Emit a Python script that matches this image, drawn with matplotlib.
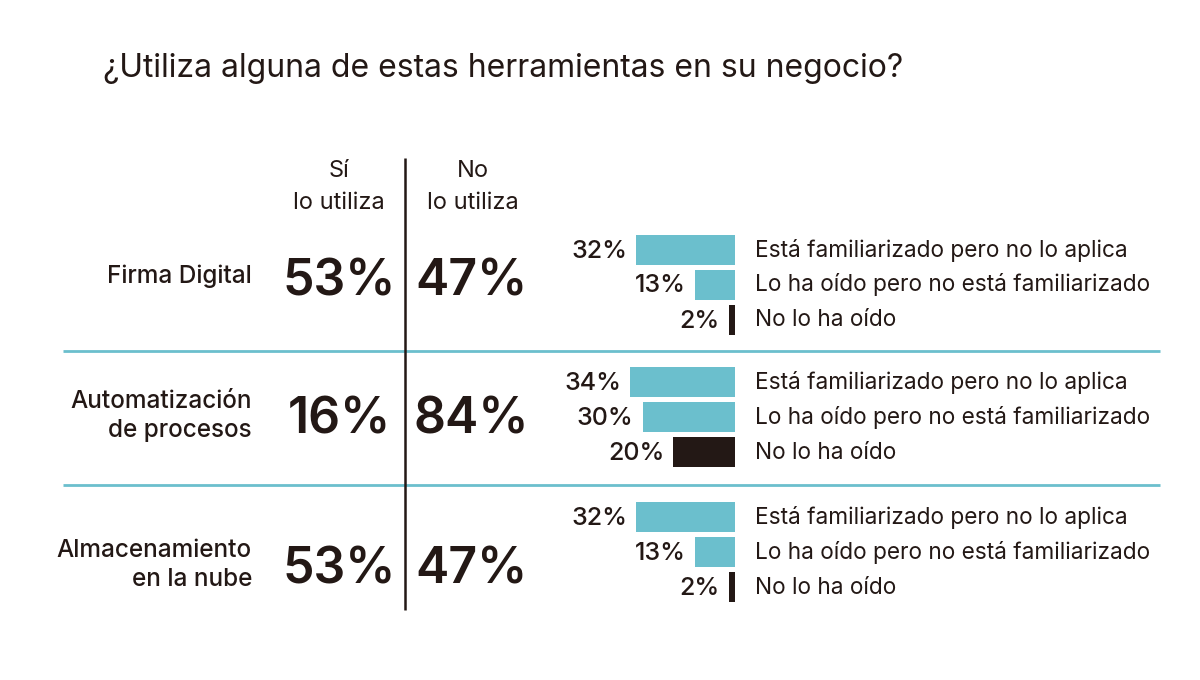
import matplotlib
matplotlib.use("Agg")
import matplotlib.pyplot as plt

# datos
title = "¿Utiliza alguna de estas herramientas en su negocio?"
tools = ["Firma Digital", "Automatización\nde procesos", "Almacenamiento\nen la nube"]
si_utiliza = [53, 16, 53]
no_utiliza = [47, 84, 47]
categorias = ["Está familiarizado pero no lo aplica",
              "Lo ha oído pero no está familiarizado",
              "No lo ha oído"]
familiarizado = [32, 34, 32]
lo_ha_oido = [13, 30, 13]
no_lo_ha_oido = [2, 20, 2]

TEAL = "#6bbfcd"
DARK = "#231815"
plt.rcParams['font.family'] = ['Inter', 'DejaVu Sans']

fig = plt.figure(figsize=(12, 6.8), dpi=100)
ax = fig.add_axes([0, 0, 1, 1])
ax.set_xlim(0, 1200)
ax.set_ylim(680, 0)
ax.axis("off")

# layout (pixel coords)
label_base = [283, 408, 557]    # baseline of first line of row label
num_base = [296, 434, 583]      # baseline of big numbers
bar_mid = [284.5, 417, 552]     # centre of middle bar in each group
bar_step = 35
bar_h = 30
bar_right = 735
px_per_pct = 3.08
col_si, col_no = 339, 471

ax.text(103, 77, title, fontsize=23, color=DARK, ha="left", va="baseline")

# column headers
ax.text(col_si, 177, "Sí", fontsize=17, color=DARK, ha="center", va="baseline")
ax.text(col_si, 209, "lo utiliza", fontsize=17, color=DARK, ha="center", va="baseline")
ax.text(col_no + 2, 177, "No", fontsize=17, color=DARK, ha="center", va="baseline")
ax.text(col_no + 2, 209, "lo utiliza", fontsize=17, color=DARK, ha="center", va="baseline")

# divider lines
ax.plot([405, 405], [158, 610], color=DARK, lw=1.8, solid_capstyle="butt")
for yl in [351, 485]:
    ax.plot([63, 1160], [yl, yl], color=TEAL, lw=2, solid_capstyle="butt", zorder=0)

for i, tool in enumerate(tools):
    for k, line in enumerate(tool.split("\n")):
        ax.text(252, label_base[i] + 29.5 * k, line, fontsize=17.5, fontweight="medium",
                color=DARK, ha="right", va="baseline")
    ax.text(col_si, num_base[i], f"{si_utiliza[i]}%", fontsize=36, fontweight="semibold",
            color=DARK, ha="center", va="baseline")
    ax.text(col_no, num_base[i], f"{no_utiliza[i]}%", fontsize=36, fontweight="semibold",
            color=DARK, ha="center", va="baseline")

    vals = [familiarizado[i], lo_ha_oido[i], no_lo_ha_oido[i]]
    ys = [bar_mid[i] - bar_step, bar_mid[i], bar_mid[i] + bar_step]
    widths = [v * px_per_pct for v in vals]
    lefts = [bar_right - w for w in widths]
    ax.barh(ys, widths, left=lefts, height=bar_h, color=[TEAL, TEAL, DARK])
    for y, v, l, cat in zip(ys, vals, lefts, categorias):
        ax.text(l - 9, y + 8, f"{v}%", fontsize=18, fontweight="medium", color=DARK,
                ha="right", va="baseline")
        ax.text(755, y + 7, cat, fontsize=16.3, color=DARK, ha="left", va="baseline")

fig.savefig("out.png", dpi=100, facecolor="white")
